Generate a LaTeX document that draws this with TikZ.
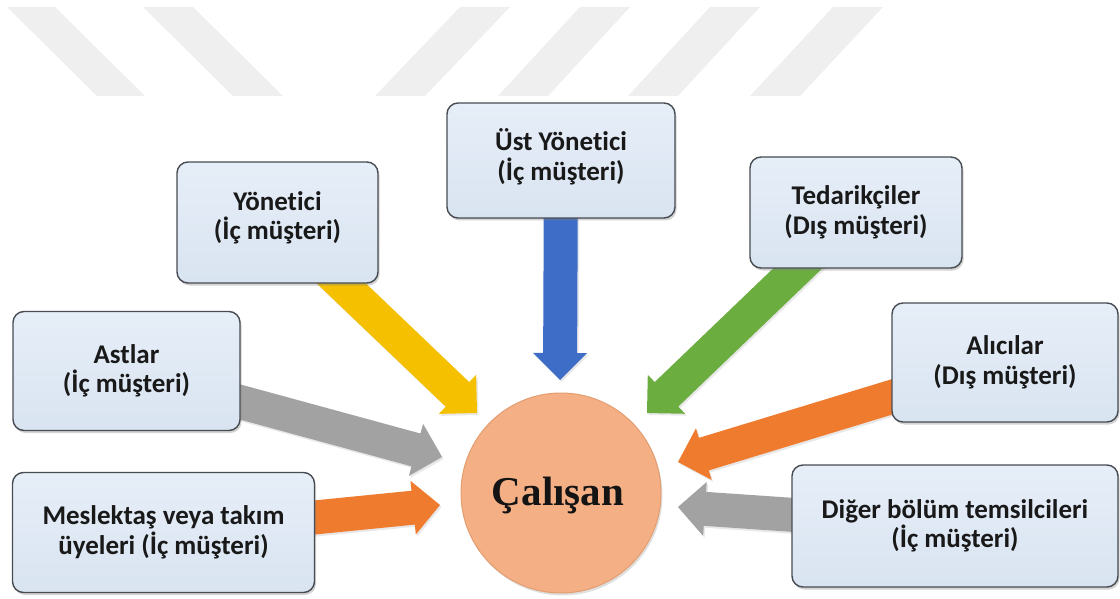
\documentclass[tikz,border=0pt]{standalone}
\usepackage{fontspec}
\usetikzlibrary{calc,shadows}
\newfontfamily\boxfont{Carlito}[Ligatures={NoCommon}]
\newfontfamily\titlefont{Liberation Serif}
\definecolor{boxfill}{HTML}{D9E4F1}
\definecolor{boxtop}{HTML}{E6EEF8}
\definecolor{boxedge}{HTML}{474B52}
\definecolor{stripe}{HTML}{EFEFEF}
\definecolor{cyellow}{HTML}{F4C000}
\definecolor{cblue}{HTML}{3D6DC6}
\definecolor{cgreen}{HTML}{6BAD3F}
\definecolor{cgray}{HTML}{A2A2A2}
\definecolor{corange}{HTML}{EE7B2E}
\definecolor{peach}{HTML}{F4B084}
\definecolor{peachedge}{HTML}{E29D70}
\pgfdeclarelayer{back}
\pgfdeclarelayer{arrows}
\pgfsetlayers{back,arrows,main}

% Block arrow from #1 (tail) to #2 (tip), filled with colour #3
\newcommand\blockarrow[3]{%
  \coordinate (ba-back) at ($(#2)!27pt!(#1)$);
  \fill[#3, arrowshade]
    ($(#1)!17pt!90:(#2)$) -- ($(ba-back)!17pt!-90:(#1)$)
    -- ($(ba-back)!27pt!-90:(#1)$) -- (#2)
    -- ($(ba-back)!27pt!90:(#1)$) -- ($(ba-back)!17pt!90:(#1)$)
    -- ($(#1)!17pt!-90:(#2)$) -- cycle;
}

\begin{document}
\begin{tikzpicture}[x=1pt,y=1pt,
  party/.style={rounded corners=11pt, draw=boxedge, line width=1.4pt,
    top color=boxtop, bottom color=boxfill, align=center, text=black!90,
    font=\boxfont\bfseries\fontsize{27}{29.5}\selectfont,
    inner sep=0pt, outer sep=0pt,
    drop shadow={shadow xshift=1.5pt, shadow yshift=-2.5pt, opacity=0.35}},
  arrowshade/.style={drop shadow={shadow xshift=1.5pt, shadow yshift=-2pt, opacity=0.18}},
  centre/.style={circle, fill=peach, draw=peachedge, line width=1pt,
    minimum size=200pt, inner sep=0pt,
    drop shadow={shadow xshift=1.5pt, shadow yshift=-2.5pt, opacity=0.25}}]

\useasboundingbox (0,0) rectangle (1120,-599);

% background stripes
\begin{pgfonlayer}{back}
  \fill[stripe] (7,-7) -- (55,-7) -- (145,-96) -- (97,-96) -- cycle;
  \fill[stripe] (143,-7) -- (193,-7) -- (283,-96) -- (233,-96) -- cycle;
  \fill[stripe] (460,-7) -- (510,-7) -- (425,-96) -- (375,-96) -- cycle;
  \fill[stripe] (580,-7) -- (630,-7) -- (548,-96) -- (498,-96) -- cycle;
  \fill[stripe] (710,-7) -- (760,-7) -- (678,-96) -- (628,-96) -- cycle;
  \fill[stripe] (833,-7) -- (883,-7) -- (800,-96) -- (750,-96) -- cycle;
\end{pgfonlayer}

% customer boxes
\node[party, minimum width=201pt, minimum height=121pt, text depth=14pt] (yon) at (277.5,-222.5) {Yönetici\\(İç müşteri)};
\node[party, minimum width=228pt, minimum height=115pt, text depth=12pt] (ust) at (561,-160.5) {Üst Yönetici\\(İç müşteri)};
\node[party, minimum width=212pt, minimum height=111pt] (ted) at (856,-212.5) {Tedarikçiler\\(Dış müşteri)};
\node[party, minimum width=227pt, minimum height=119pt] (ast) at (126.5,-371) {Astlar\\(İç müşteri)};
\node[party, minimum width=226pt, minimum height=119pt] (alc) at (1005,-362.5) {Alıcılar\\(Dış müşteri)};
\node[party, minimum width=302pt, minimum height=120pt] (mes) at (163.5,-532.5) {Meslektaş veya takım\\üyeleri (İç müşteri)};
\node[party, minimum width=326pt, minimum height=122pt] (dig) at (955,-526) {Diğer bölüm temsilcileri\\(İç müşteri)};

% employee in the centre
\node[centre] (emp) at (561,-493) {};
\node[font=\titlefont\bfseries\fontsize{41}{46}\selectfont, text=black!92, anchor=base] (empname) at (558,-505) {Çalışan};

% arrow tips around the centre
\coordinate (tipY) at (477,-413);
\coordinate (tipB) at (560,-380);
\coordinate (tipG) at (647,-413);
\coordinate (tipA) at (442,-457);
\coordinate (tipM) at (440,-505);
\coordinate (tipR) at (678,-462);
\coordinate (tipD) at (678,-507);

\begin{pgfonlayer}{arrows}
  \blockarrow{yon.center}{tipY}{cyellow}
  \blockarrow{ust.center}{tipB}{cblue}
  \blockarrow{ted.center}{tipG}{cgreen}
  \blockarrow{ast.center}{tipA}{cgray}
  \blockarrow{mes.center}{tipM}{corange}
  \blockarrow{alc.center}{tipR}{corange}
  \blockarrow{dig.center}{tipD}{cgray}
\end{pgfonlayer}
\end{tikzpicture}
\end{document}
